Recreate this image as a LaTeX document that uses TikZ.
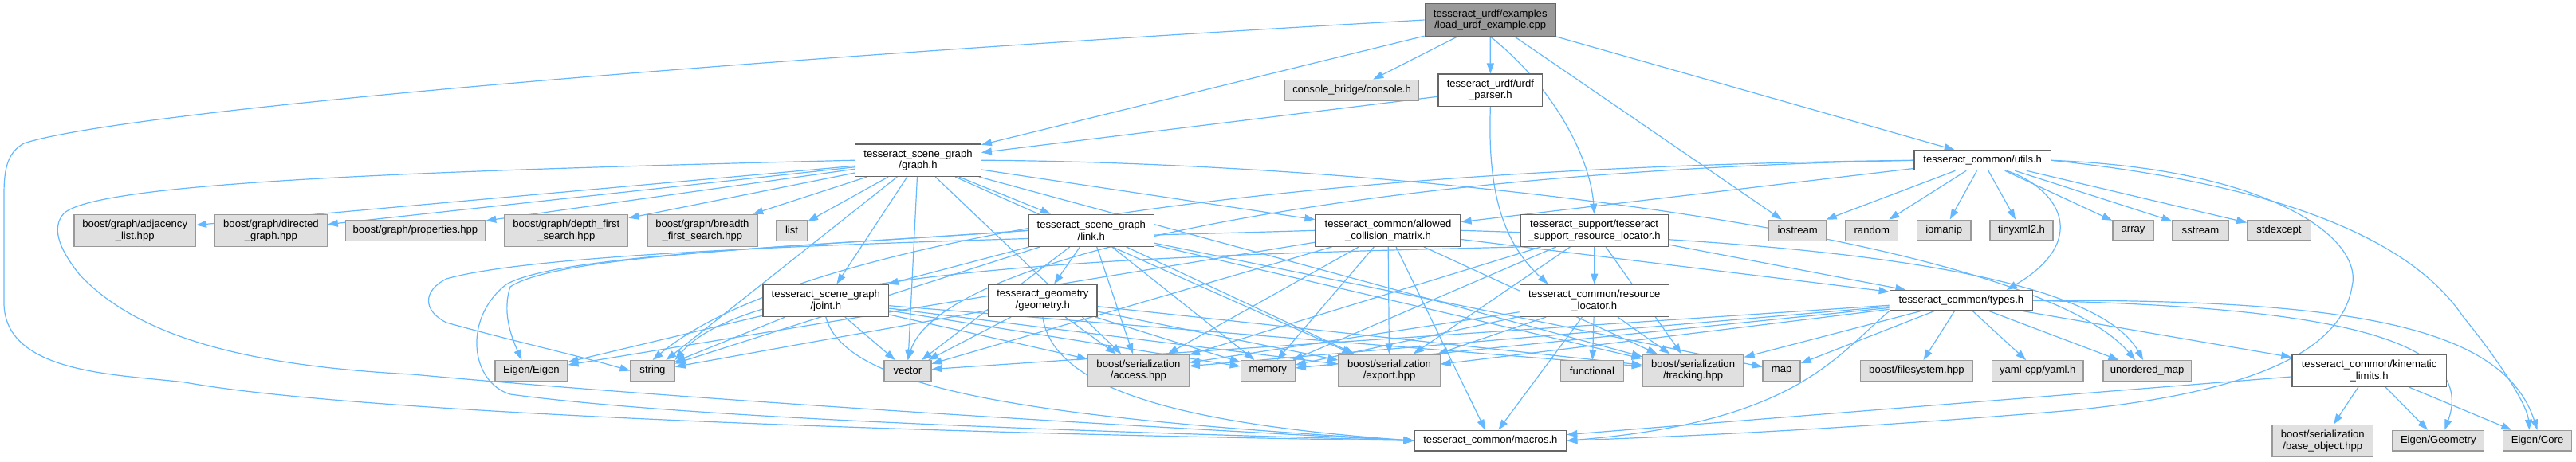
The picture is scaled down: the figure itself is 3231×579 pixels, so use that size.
\documentclass[tikz,border=0pt]{standalone}
\usepackage{fontspec}
\setmainfont{Liberation Sans}
\usetikzlibrary{arrows.meta}
\definecolor{edgeblue}{HTML}{63B8FF}
\definecolor{intborder}{HTML}{666666}
\definecolor{extfill}{HTML}{E0E0E0}
\definecolor{extborder}{HTML}{999999}
\definecolor{mainfill}{HTML}{999999}
\newcommand\dxfont{\fontsize{13.1}{14.7}\selectfont}
\pgfdeclarelayer{bg}
\pgfsetlayers{bg,main}
\tikzset{
  ibox/.style={draw=intborder, fill=white, line width=1.3pt, inner sep=0pt, align=center, font=\dxfont},
  xbox/.style={ibox, draw=extborder, fill=extfill},
  mbox/.style={ibox, fill=mainfill},
  dep/.style={draw=edgeblue, line width=1.2pt, -{Triangle[length=13pt,width=9pt]}}
}
\begin{document}
\begin{tikzpicture}[x=1pt,y=-1pt]
\useasboundingbox (0,0) rectangle (3231,579);
% row 0-2
\node[mbox, minimum width=164pt, minimum height=40.6pt] (main) at (1869.2,25) {tesseract\_urdf/examples\\/load\_urdf\_example.cpp};
\node[xbox, minimum width=168.4pt, minimum height=25.7pt] (console) at (1695.6,113.2) {console\_bridge/console.h};
\node[ibox, minimum width=130.8pt, minimum height=40.3pt] (urdf) at (1869.4,113.2) {tesseract\_urdf/urdf\\\_parser.h};
\node[ibox, minimum width=157.5pt, minimum height=40.3pt] (graph) at (1151.5,201.2) {tesseract\_scene\_graph\\/graph.h};
\node[ibox, minimum width=171.3pt, minimum height=24.7pt] (utils) at (2486.7,201.3) {tesseract\_common/utils.h};
% row 3
\node[xbox, minimum width=152.4pt, minimum height=40pt] (adjacency) at (169.2,289.3) {boost/graph/adjacency\\\_list.hpp};
\node[xbox, minimum width=140.5pt, minimum height=40pt] (directed) at (339.9,289.3) {boost/graph/directed\\\_graph.hpp};
\node[xbox, minimum width=175.2pt, minimum height=26pt] (properties) at (521,289.3) {boost/graph/properties.hpp};
\node[xbox, minimum width=155pt, minimum height=40pt] (depth) at (710.3,289.3) {boost/graph/depth\_first\\\_search.hpp};
\node[xbox, minimum width=137.9pt, minimum height=40pt] (breadth) at (880.9,289.3) {boost/graph/breadth\\\_first\_search.hpp};
\node[xbox, minimum width=38.7pt, minimum height=26pt] (list) at (993,289.3) {list};
\node[ibox, minimum width=157pt, minimum height=40pt] (link) at (1368.8,289.3) {tesseract\_scene\_graph\\/link.h};
\node[ibox, minimum width=181.9pt, minimum height=40pt] (acm) at (1741,289.3) {tesseract\_common/allowed\\\_collision\_matrix.h};
\node[ibox, minimum width=185.4pt, minimum height=40pt] (srl) at (1999.6,289.3) {tesseract\_support/tesseract\\\_support\_resource\_locator.h};
\node[xbox, minimum width=72.3pt, minimum height=26pt] (iostream) at (2254.6,289.3) {iostream};
\node[xbox, minimum width=65.6pt, minimum height=26pt] (random) at (2347.8,289.3) {random};
\node[xbox, minimum width=67.7pt, minimum height=25.7pt] (iomanip) at (2438.2,289) {iomanip};
\node[xbox, minimum width=79pt, minimum height=25.7pt] (tinyxml) at (2535.5,289) {tinyxml2.h};
\node[xbox, minimum width=51pt, minimum height=25.7pt] (array) at (2675.5,289) {array};
\node[xbox, minimum width=70pt, minimum height=25.7pt] (sstream) at (2760,289) {sstream};
\node[xbox, minimum width=79.5pt, minimum height=25.7pt] (stdexcept) at (2858.5,289) {stdexcept};
% row 4
\node[ibox, minimum width=157.6pt, minimum height=40pt] (joint) at (1035.8,377.3) {tesseract\_scene\_graph\\/joint.h};
\node[ibox, minimum width=136.4pt, minimum height=40pt] (geometry) at (1307.8,377.3) {tesseract\_geometry\\/geometry.h};
\node[ibox, minimum width=187pt, minimum height=40pt] (resloc) at (1999.8,377.3) {tesseract\_common/resource\\\_locator.h};
\node[ibox, minimum width=179.3pt, minimum height=25.3pt] (types) at (2459.9,377.3) {tesseract\_common/types.h};
% row 5
\node[xbox, minimum width=90.9pt, minimum height=25.6pt] (eigen) at (666.4,465.5) {Eigen/Eigen};
\node[xbox, minimum width=55pt, minimum height=25.6pt] (string) at (818.5,465.5) {string};
\node[xbox, minimum width=58.9pt, minimum height=25.6pt] (vector) at (1138.4,465.5) {vector};
\node[xbox, minimum width=126.6pt, minimum height=40pt] (access) at (1427.9,465) {boost/serialization\\/access.hpp};
\node[xbox, minimum width=68pt, minimum height=25.6pt] (memory) at (1590.3,465.5) {memory};
\node[xbox, minimum width=127.1pt, minimum height=40pt] (export) at (1742.6,465) {boost/serialization\\/export.hpp};
\node[xbox, minimum width=79pt, minimum height=25.6pt] (functional) at (1997,465.5) {functional};
\node[xbox, minimum width=126.6pt, minimum height=40pt] (tracking) at (2123.6,465) {boost/serialization\\/tracking.hpp};
\node[xbox, minimum width=47pt, minimum height=25.6pt] (map) at (2234.6,465.5) {map};
\node[xbox, minimum width=140.6pt, minimum height=25.6pt] (filesystem) at (2403.9,465.5) {boost/filesystem.hpp};
\node[xbox, minimum width=114.4pt, minimum height=25.6pt] (yaml) at (2555.8,465.5) {yaml-cpp/yaml.h};
\node[xbox, minimum width=110.2pt, minimum height=25.6pt] (unordered) at (2693.1,465.5) {unordered\_map};
\node[ibox, minimum width=193.4pt, minimum height=40pt] (kin) at (2971.6,465.2) {tesseract\_common/kinematic\\\_limits.h};
% row 6
\node[ibox, minimum width=190.6pt, minimum height=25.7pt] (macros) at (1869.4,553.2) {tesseract\_common/macros.h};
\node[xbox, minimum width=126.7pt, minimum height=40pt] (baseobj) at (2913.3,553.3) {boost/serialization\\/base\_object.hpp};
\node[xbox, minimum width=114.5pt, minimum height=25.7pt] (eigengeo) at (3058.3,553.2) {Eigen/Geometry};
\node[xbox, minimum width=86.4pt, minimum height=25.7pt] (eigencore) at (3182.5,553.2) {Eigen/Core};

\begin{pgfonlayer}{bg}
% main
\foreach \t in {console,urdf,iostream,graph} \draw[dep] (main) -- (\t);
\draw[dep] (main.south east) -- ([xshift=-35pt]utils.north);
\draw[dep] (main.south) .. controls (1950,110) and (1995,200) .. (srl.north);
\draw[dep] (main.west) .. controls (900,75) and (150,140) .. (30,180) .. controls (8,192) and (5,215) .. (5,245) -- (5,380) .. controls (5,470) and (150,470) .. (232,480) .. controls (450,520) and (1200,545) .. (macros.west);
% urdf parser
\draw[dep] (urdf) -- (graph);
\draw[dep] (urdf.south) .. controls (1866,230) and (1880,300) .. ([xshift=36pt]resloc.north west);
% graph
\foreach \t in {adjacency,directed,properties,depth,breadth,list,link,joint,acm,string,vector,access,export,tracking} \draw[dep] (graph) -- (\t);
\draw[dep] (graph.east) .. controls (1800,205) and (2550,300) .. ([xshift=-15pt]unordered.north);
\draw[dep] (graph.west) .. controls (500,215) and (120,230) .. (80,268) .. controls (65,285) and (72,310) .. (100,345) .. controls (180,430) and (330,460) .. (517,470) .. controls (900,505) and (1500,540) .. (macros.west);
% link
\foreach \t in {joint,geometry,string,vector,memory,access,export,tracking,map} \draw[dep] (link) -- (\t);
\draw[dep] (link.west) .. controls (1000,310) and (700,320) .. (640,360) .. controls (630,390) and (640,420) .. ([xshift=-12pt]eigen.north);
\draw[dep] (link.west) .. controls (1000,310) and (700,320) .. (635,357) .. controls (580,400) and (590,480) .. (640,495) .. controls (900,530) and (1500,545) .. (macros.west);
% joint
\foreach \t in {eigen,string,vector,memory,access,export,tracking} \draw[dep] (joint) -- (\t);
\draw[dep] (joint.south) .. controls (1060,490) and (1300,525) .. (macros.west);
% geometry
\foreach \t in {string,vector,memory,access,export,tracking} \draw[dep] (geometry) -- (\t);
\draw[dep] (geometry.south) .. controls (1320,480) and (1450,530) .. (macros.west);
% allowed collision matrix
\foreach \t in {eigen,vector,memory,access,export,tracking,types,macros} \draw[dep] (acm) -- (\t);
\draw[dep] (acm.west) .. controls (1300,300) and (700,310) .. (560,350) .. controls (530,365) and (530,390) .. (560,405) .. controls (650,430) and (720,445) .. (string.west);
\draw[dep] (acm.east) .. controls (2200,300) and (2620,330) .. ([xshift=-5pt]unordered.north);
% support resource locator
\foreach \t in {resloc,types,memory,access,export,tracking} \draw[dep] (srl) -- (\t);
\draw[dep] (srl.south west) .. controls (1500,320) and (950,330) .. (string.north east);
% resource locator
\foreach \t in {functional,tracking,macros,export,memory,access} \draw[dep] (resloc) -- (\t);
% utils
\foreach \t in {acm,iostream,random,iomanip,tinyxml,array,sstream,stdexcept} \draw[dep] (utils) -- (\t);
\draw[dep] ([xshift=30pt]utils.south) .. controls (2580,235) and (2625,300) .. ([xshift=57pt]types.north);
\draw[dep] (utils.west) .. controls (1600,210) and (1000,300) .. (string.north);
\draw[dep] (utils.west) .. controls (1700,215) and (1180,320) .. (vector.north);
\draw[dep] (utils.east) .. controls (2850,212) and (2965,300) .. (2950,360) .. controls (2935,450) and (2800,495) .. (2600,515) .. controls (2300,540) and (2100,548) .. (macros.east);
\draw[dep] (utils.east) .. controls (2800,225) and (3010,280) .. (3089,397) .. controls (3140,460) and (3170,510) .. ([xshift=-10pt]eigencore.north);
% types
\foreach \t in {kin,unordered,yaml,filesystem,map,tracking,export,access,memory,vector} \draw[dep] (types) -- (\t);
\draw[dep] (types.east) .. controls (2900,385) and (3110,420) .. ([xshift=8pt]eigengeo.north);
\draw[dep] (types.east) .. controls (2950,375) and (3140,410) .. (eigencore.north);
\draw[dep] (types.south west) .. controls (2300,450) and (2250,530) .. (macros.east);
% kinematic limits
\foreach \t in {baseobj,eigengeo,eigencore,macros} \draw[dep] (kin) -- (\t);
\end{pgfonlayer}
\end{tikzpicture}
\end{document}
